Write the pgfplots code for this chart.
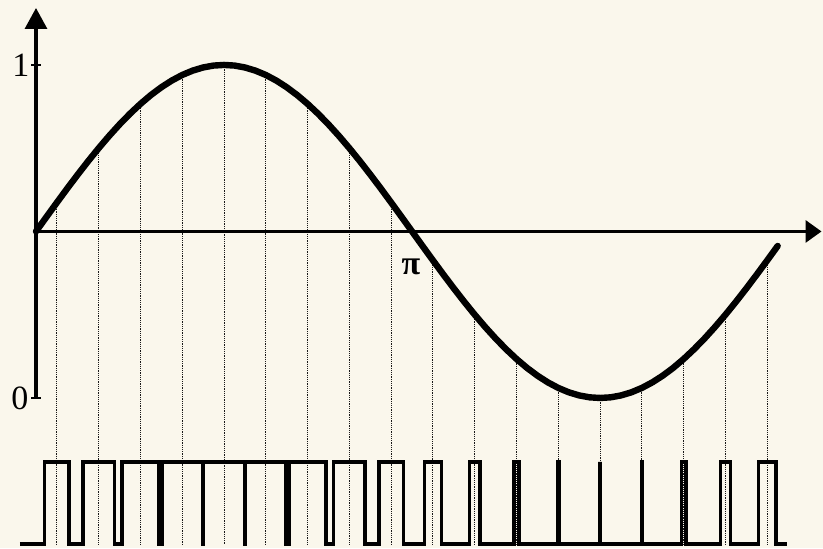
\documentclass[border=0pt]{standalone}
\usepackage{pgfplots}
\pgfplotsset{compat=1.18}
\usepackage{fontspec}
\setmainfont{Liberation Serif}
\usetikzlibrary{arrows.meta,backgrounds}
\definecolor{bgcol}{RGB}{250,247,236}
\begin{document}
\begin{tikzpicture}
\begin{axis}[
  x=1.0445pt, y=166.5pt,
  xmin=-17.23, xmax=376.7, ymin=-0.4505, ymax=1.195,
  hide axis, clip=false,
  unbounded coords=jump,
]
\coordinate (SW) at (rel axis cs:0,0);
\coordinate (NE) at (rel axis cs:1,1);
% sampling lines
\addplot[black!90, line width=0.5pt, dash pattern=on 0.6pt off 0.5pt] coordinates {
(10,0.58682) (10,-0.44) (10,nan)
(30,0.75) (30,-0.44) (30,nan)
(50,0.88302) (50,-0.44) (50,nan)
(70,0.96985) (70,-0.44) (70,nan)
(90,1) (90,-0.44) (90,nan)
(110,0.96985) (110,-0.44) (110,nan)
(130,0.88302) (130,-0.44) (130,nan)
(150,0.75) (150,-0.44) (150,nan)
(170,0.58682) (170,-0.44) (170,nan)
(190,0.41318) (190,-0.44) (190,nan)
(210,0.25) (210,-0.44) (210,nan)
(230,0.11698) (230,-0.44) (230,nan)
(250,0.03015) (250,-0.44) (250,nan)
(270,0) (270,-0.44) (270,nan)
(290,0.03015) (290,-0.44) (290,nan)
(310,0.11698) (310,-0.44) (310,nan)
(330,0.25) (330,-0.44) (330,nan)
(350,0.41318) (350,-0.44)
};
% axes
\addplot[black, line width=1.6pt, -{Triangle[length=10.5pt,width=11pt]}] coordinates {(0,0) (0,1.171)};
\addplot[black, line width=1.6pt, -{Triangle[length=8pt,width=11pt]}] coordinates {(0,0.5) (376.0,0.5)};
\addplot[black, line width=1.2pt] coordinates {(-2.3,1) (2.6,1) (2.6,nan) (-2.3,0) (2.6,0)};
% sine
\addplot[black, line width=3.2pt, line join=round, line cap=round] coordinates {
(0,0.5) (5,0.54358) (10,0.58682) (15,0.62941) (20,0.67101) (25,0.71131) (30,0.75) (35,0.78679)
(40,0.82139) (45,0.85355) (50,0.88302) (55,0.90958) (60,0.93301) (65,0.95315) (70,0.96985)
(75,0.98296) (80,0.99240) (85,0.99810) (90,1) (95,0.99810) (100,0.99240) (105,0.98296)
(110,0.96985) (115,0.95315) (120,0.93301) (125,0.90958) (130,0.88302) (135,0.85355)
(140,0.82139) (145,0.78679) (150,0.75) (155,0.71131) (160,0.67101) (165,0.62941)
(170,0.58682) (175,0.54358) (180,0.5) (185,0.45642) (190,0.41318) (195,0.37059)
(200,0.32899) (205,0.28869) (210,0.25) (215,0.21321) (220,0.17861) (225,0.14645)
(230,0.11698) (235,0.09042) (240,0.06699) (245,0.04685) (250,0.03015) (255,0.01704)
(260,0.00760) (265,0.00190) (270,0) (275,0.00190) (280,0.00760) (285,0.01704)
(290,0.03015) (295,0.04685) (300,0.06699) (305,0.09042) (310,0.11698) (315,0.14645)
(320,0.17861) (325,0.21321) (330,0.25) (335,0.28869) (340,0.32899) (345,0.37059)
(350,0.41318) (355,0.45642)
};
% PWM pulse train
\addplot[black, line width=1.7pt, line join=miter] coordinates {
(-7.7,-0.438) (4.13,-0.438) (4.13,-0.192) (15.87,-0.192) (15.87,-0.438)
(22.5,-0.438) (22.5,-0.192) (37.5,-0.192) (37.5,-0.438)
(41.17,-0.438) (41.17,-0.192) (58.83,-0.192) (58.83,-0.438)
(60.30,-0.438) (60.30,-0.192) (79.70,-0.192) (79.70,-0.438)
(80,-0.438) (80,-0.192) (100,-0.192) (100,-0.438)
(100.30,-0.438) (100.30,-0.192) (119.70,-0.192) (119.70,-0.438)
(121.17,-0.438) (121.17,-0.192) (138.83,-0.192) (138.83,-0.438)
(142.5,-0.438) (142.5,-0.192) (157.5,-0.192) (157.5,-0.438)
(164.13,-0.438) (164.13,-0.192) (175.87,-0.192) (175.87,-0.438)
(185.87,-0.438) (185.87,-0.192) (194.13,-0.192) (194.13,-0.438)
(207.5,-0.438) (207.5,-0.192) (212.5,-0.192) (212.5,-0.438)
(228.83,-0.438) (228.83,-0.192) (231.17,-0.192) (231.17,-0.438)
(249.70,-0.438) (249.70,-0.192) (250.30,-0.192) (250.30,-0.438)
(270,-0.438) (270,-0.192) (270,-0.438)
(289.70,-0.438) (289.70,-0.192) (290.30,-0.192) (290.30,-0.438)
(308.83,-0.438) (308.83,-0.192) (311.17,-0.192) (311.17,-0.438)
(327.5,-0.438) (327.5,-0.192) (332.5,-0.192) (332.5,-0.438)
(345.87,-0.438) (345.87,-0.192) (354.13,-0.192) (354.13,-0.438)
(359.5,-0.438)
};
\node[font=\fontsize{17}{20}\selectfont, inner sep=0pt] at (axis cs:-7.2,1) {1};
\node[font=\fontsize{17}{20}\selectfont, inner sep=0pt] at (axis cs:-7.7,0) {0};
\node[font=\fontsize{17}{20}\selectfont\bfseries, inner sep=0pt] at (axis cs:179.5,0.393) {π};
\end{axis}
\pgfresetboundingbox
\path[use as bounding box] (SW) rectangle (NE);
\begin{pgfonlayer}{background}
\fill[bgcol] (SW) rectangle (NE);
\end{pgfonlayer}
\end{tikzpicture}
\end{document}
